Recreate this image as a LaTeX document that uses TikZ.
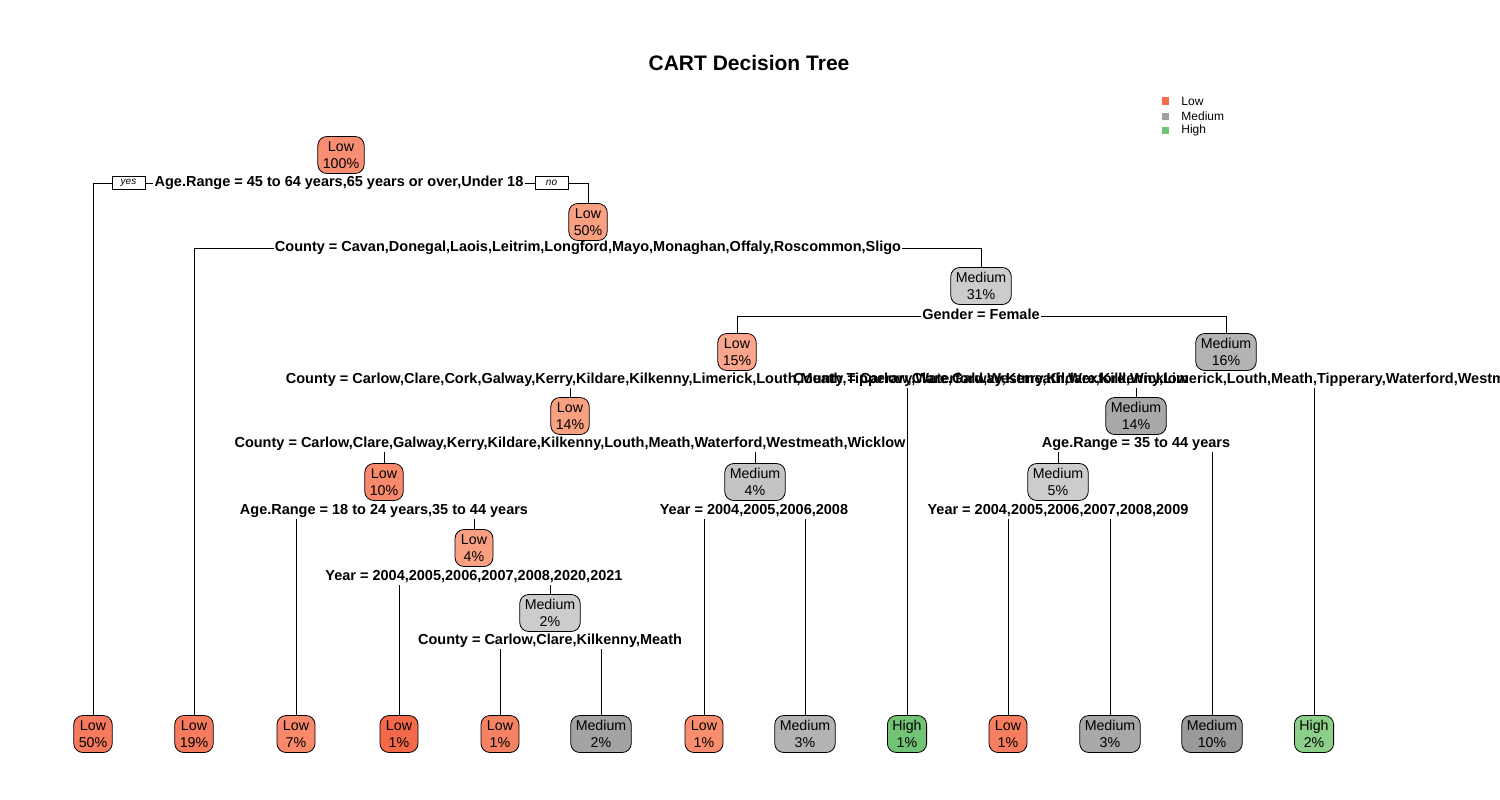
\documentclass[tikz,border=0pt]{standalone}
\usepackage{fontspec}
\setmainfont{Liberation Sans}
\definecolor{lowA}{HTML}{F98E72}
\definecolor{lowB}{HTML}{F9A083}
\definecolor{lowC}{HTML}{F9A68C}
\definecolor{lowD}{HTML}{F8896B}
\definecolor{lowE}{HTML}{F57A5E}
\definecolor{lowF}{HTML}{F5694B}
\definecolor{lowG}{HTML}{F68264}
\definecolor{lowH}{HTML}{F98D6E}
\definecolor{lowI}{HTML}{F67D5E}
\definecolor{medA}{HTML}{CCCCCC}
\definecolor{medB}{HTML}{B3B3B3}
\definecolor{medC}{HTML}{A8A8A8}
\definecolor{medD}{HTML}{C4C4C4}
\definecolor{medE}{HTML}{A3A3A3}
\definecolor{medF}{HTML}{9A9A9A}
\definecolor{highA}{HTML}{72C375}
\definecolor{highB}{HTML}{8CCF88}
\definecolor{keyLow}{HTML}{F76B4F}
\definecolor{keyMed}{HTML}{9E9E9E}
\definecolor{keyHigh}{HTML}{74C476}
\begin{document}
\begin{tikzpicture}[x=1pt, y=-1pt, line width=0.8pt,
	main/.style = {draw, rounded corners=9pt, align=center, minimum width=38pt, minimum height=37pt, inner xsep=5pt, inner ysep=1pt, font=\fontsize{14.2}{17}\selectfont},
	split/.style = {font=\bfseries\fontsize{14.5}{15}\selectfont, inner sep=1pt, text height=10.5pt, text depth=3pt},
	yn/.style = {draw, line width=0.6pt, font=\itshape\fontsize{10}{10}\selectfont, minimum width=33pt, minimum height=13pt, inner sep=0pt},
	key/.style = {fill, minimum size=7pt, inner sep=0pt},
	keytext/.style = {anchor=west, inner sep=0pt, font=\fontsize{12}{12}\selectfont}]

		\useasboundingbox (0,0) rectangle (1500,800);

		\node (T) at (749,63) {\bfseries\fontsize{21}{21}\selectfont CART Decision Tree};

		\node[key, keyLow] (k1) at (1165,101) {};
		\node[key, keyMed] (k2) at (1165,116) {};
		\node[key, keyHigh] (k3) at (1165,130) {};
		\node[keytext] (t1) at (1181,101) {Low};
		\node[keytext] (t2) at (1181,116) {Medium};
		\node[keytext] (t3) at (1181,130) {High};

		\node[main, fill=lowA] (n1) at (341,155) {Low\\100\%};
		\node[main, fill=lowB] (n3) at (588,222) {Low\\50\%};
		\node[main, fill=medA] (n7) at (981,286) {Medium\\31\%};
		\node[main, fill=lowC] (n14) at (737,352) {Low\\15\%};
		\node[main, fill=medB] (n15) at (1226,352) {Medium\\16\%};
		\node[main, fill=lowB] (n28) at (570,416) {Low\\14\%};
		\node[main, fill=medC] (n30) at (1136,416) {Medium\\14\%};
		\node[main, fill=lowD] (n56) at (384,482) {Low\\10\%};
		\node[main, fill=medD] (n57) at (755,482) {Medium\\4\%};
		\node[main, fill=medA] (n60) at (1058,482) {Medium\\5\%};
		\node[main, fill=lowB] (n113) at (474,548) {Low\\4\%};
		\node[main, fill=medA] (n227) at (550,613) {Medium\\2\%};

		\node[main, fill=lowE] (L1) at (93,734) {Low\\50\%};
		\node[main, fill=lowE] (L2) at (194,734) {Low\\19\%};
		\node[main, fill=lowD] (L3) at (296,734) {Low\\7\%};
		\node[main, fill=lowF] (L4) at (399,734) {Low\\1\%};
		\node[main, fill=lowG] (L5) at (500,734) {Low\\1\%};
		\node[main, fill=medE] (L6) at (601,734) {Medium\\2\%};
		\node[main, fill=lowH] (L7) at (704,734) {Low\\1\%};
		\node[main, fill=medB] (L8) at (805,734) {Medium\\3\%};
		\node[main, fill=highA] (L9) at (907,734) {High\\1\%};
		\node[main, fill=lowI] (L10) at (1008,734) {Low\\1\%};
		\node[main, fill=medC] (L11) at (1110,734) {Medium\\3\%};
		\node[main, fill=medF] (L12) at (1212,734) {Medium\\10\%};
		\node[main, fill=highB] (L13) at (1314,734) {High\\2\%};

		\node[split] (s1) at (339,183) {Age.Range = 45 to 64 years,65 years or over,Under 18};
		\node[yn] (yes) at (128.5,183) {yes};
		\node[yn] (no) at (551.5,183) {no};
		\node[split] (s3) at (588,248) {County = Cavan,Donegal,Laois,Leitrim,Longford,Mayo,Monaghan,Offaly,Roscommon,Sligo};
		\node[split] (s7) at (981,316) {Gender = Female};
		\node[split] (s14) at (737,380) {County = Carlow,Clare,Cork,Galway,Kerry,Kildare,Kilkenny,Limerick,Louth,Meath,Tipperary,Waterford,Westmeath,Wexford,Wicklow};
		\node[split] (s15) at (1226,380) {County = Carlow,Clare,Galway,Kerry,Kildare,Kilkenny,Limerick,Louth,Meath,Tipperary,Waterford,Westmeath,Wexford,Wicklow};
		\node[split] (s28) at (570,444) {County = Carlow,Clare,Galway,Kerry,Kildare,Kilkenny,Louth,Meath,Waterford,Westmeath,Wicklow};
		\node[split] (s30) at (1136,444) {Age.Range = 35 to 44 years};
		\node[split] (s56) at (384,511) {Age.Range = 18 to 24 years,35 to 44 years};
		\node[split] (s57) at (754,511) {Year = 2004,2005,2006,2008};
		\node[split] (s60) at (1058,511) {Year = 2004,2005,2006,2007,2008,2009};
		\node[split] (s113) at (474,577) {Year = 2004,2005,2006,2007,2008,2020,2021};
		\node[split] (s227) at (550,641) {County = Carlow,Clare,Kilkenny,Meath};

		\draw (s1.west) -- (yes.east);
		\draw (yes.west) -| (L1.north);
		\draw (s1.east) -- (no.west);
		\draw (no.east) -| (n3.north);
		\draw (s3.west) -| (L2.north);
		\draw (s3.east) -| (n7.north);
		\draw (s7.west) -| (n14.north);
		\draw (s7.east) -| (n15.north);
		\draw (s14.south -| n28) -- (n28.north);
		\draw (s14.south -| L9) -- (L9.north);
		\draw (s15.south -| n30) -- (n30.north);
		\draw (s15.south -| L13) -- (L13.north);
		\draw (s28.south -| n56) -- (n56.north);
		\draw (s28.south -| n57) -- (n57.north);
		\draw (s30.south -| n60) -- (n60.north);
		\draw (s30.south -| L12) -- (L12.north);
		\draw (s56.south -| L3) -- (L3.north);
		\draw (s56.south -| n113) -- (n113.north);
		\draw (s57.south -| L7) -- (L7.north);
		\draw (s57.south -| L8) -- (L8.north);
		\draw (s60.south -| L10) -- (L10.north);
		\draw (s60.south -| L11) -- (L11.north);
		\draw (s113.south -| L4) -- (L4.north);
		\draw (s113.south -| n227) -- (n227.north);
		\draw (s227.south -| L5) -- (L5.north);
		\draw (s227.south -| L6) -- (L6.north);
	\end{tikzpicture}
\end{document}
